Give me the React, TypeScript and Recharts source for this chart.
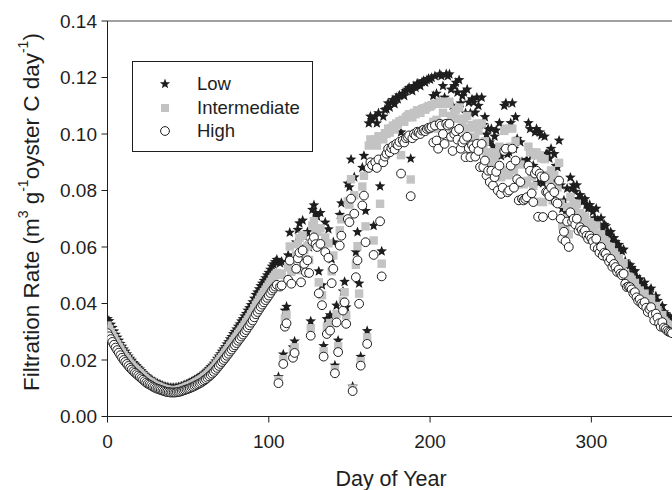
import React from 'react';
import { ScatterChart, Scatter, XAxis, YAxis, ReferenceLine, Legend, Label } from 'recharts';

const seriesNames = ['Low', 'Intermediate', 'High'];
const xTicks = [0, 100, 200, 300];
const yTicks = [0, 0.02, 0.04, 0.06, 0.08, 0.1, 0.12, 0.14];
const xTitle = 'Day of Year';

// daily values, day 0 .. 350
const lowValues = [
  0.0345, 0.0338, 0.0326, 0.0314, 0.0302, 0.0290, 0.0280, 0.0269, 0.0258, 0.0248,
  0.0238, 0.0230, 0.0221, 0.0213, 0.0205, 0.0198, 0.0190, 0.0184, 0.0179, 0.0173,
  0.0167, 0.0161, 0.0155, 0.0149, 0.0143, 0.0138, 0.0134, 0.0131, 0.0126, 0.0123,
  0.0119, 0.0117, 0.0114, 0.0112, 0.0109, 0.0107, 0.0105, 0.0104, 0.0102, 0.0101,
  0.0101, 0.0101, 0.0101, 0.0102, 0.0104, 0.0105, 0.0107, 0.0109, 0.0112, 0.0114,
  0.0117, 0.0119, 0.0123, 0.0125, 0.0129, 0.0132, 0.0136, 0.0139, 0.0143, 0.0148,
  0.0152, 0.0157, 0.0163, 0.0169, 0.0175, 0.0181, 0.0188, 0.0196, 0.0205, 0.0213,
  0.0221, 0.0230, 0.0238, 0.0246, 0.0256, 0.0264, 0.0274, 0.0282, 0.0292, 0.0300,
  0.0309, 0.0319, 0.0327, 0.0337, 0.0345, 0.0355, 0.0364, 0.0375, 0.0384, 0.0395,
  0.0405, 0.0418, 0.0431, 0.0440, 0.0451, 0.0462, 0.0471, 0.0481, 0.0490, 0.0500,
  0.0509, 0.0520, 0.0531, 0.0539, 0.0547, 0.0555, 0.0140, 0.0543, 0.0548, 0.0220,
  0.0375, 0.0389, 0.0571, 0.0651, 0.0555, 0.0245, 0.0266, 0.0617, 0.0661, 0.0684,
  0.0561, 0.0694, 0.0637, 0.0602, 0.0653, 0.0599, 0.0337, 0.0732, 0.0748, 0.0720,
  0.0708, 0.0514, 0.0721, 0.0465, 0.0250, 0.0687, 0.0345, 0.0663, 0.0359, 0.0557,
  0.0617, 0.0181, 0.0393, 0.0269, 0.0714, 0.0755, 0.0443, 0.0477, 0.0387, 0.0825,
  0.0812, 0.0910, 0.0106, 0.0847, 0.0582, 0.0653, 0.0471, 0.0212, 0.0881, 0.0923,
  0.0728, 0.0303, 0.1038, 0.1062, 0.1050, 0.0675, 0.1062, 0.1038, 0.1074, 0.0815,
  0.0585, 0.1062, 0.1086, 0.1088, 0.1109, 0.1094, 0.1112, 0.1121, 0.1106, 0.1129,
  0.1123, 0.1137, 0.1006, 0.1143, 0.1135, 0.1152, 0.1158, 0.1164, 0.0913, 0.1152,
  0.1170, 0.1164, 0.1179, 0.1177, 0.1170, 0.1184, 0.1188, 0.1182, 0.1191, 0.1196,
  0.1193, 0.1199, 0.1135, 0.1205, 0.1143, 0.1109, 0.1212, 0.1205, 0.1170, 0.1129,
  0.1212, 0.1205, 0.1212, 0.1158, 0.1100, 0.1170, 0.1182, 0.1147, 0.1191, 0.1109,
  0.1135, 0.1147, 0.1074, 0.1158, 0.1112, 0.1074, 0.1123, 0.1112, 0.1076, 0.1129,
  0.1100, 0.1033, 0.1129, 0.1033, 0.1060, 0.0998, 0.1018, 0.0971, 0.1018, 0.0957,
  0.0991, 0.1013, 0.0936, 0.1039, 0.0922, 0.0948, 0.1100, 0.1109, 0.0929, 0.0936,
  0.1039, 0.1109, 0.0948, 0.1060, 0.0983, 0.0895, 0.0971, 0.0901, 0.0895, 0.0901,
  0.0908, 0.1039, 0.1018, 0.0924, 0.0888, 0.1006, 0.1018, 0.0827, 0.1006, 0.0995,
  0.0826, 0.0991, 0.0930, 0.0929, 0.0913, 0.0948, 0.0833, 0.0929, 0.0888, 0.0882,
  0.0977, 0.0819, 0.0736, 0.0765, 0.0725, 0.0807, 0.0702, 0.0846, 0.0807, 0.0819,
  0.0796, 0.0819, 0.0770, 0.0784, 0.0772, 0.0761, 0.0770, 0.0749, 0.0736, 0.0749,
  0.0737, 0.0725, 0.0702, 0.0736, 0.0695, 0.0679, 0.0702, 0.0667, 0.0679, 0.0674,
  0.0655, 0.0641, 0.0653, 0.0620, 0.0632, 0.0619, 0.0599, 0.0608, 0.0592, 0.0585,
  0.0591, 0.0550, 0.0536, 0.0538, 0.0536, 0.0527, 0.0510, 0.0515, 0.0494, 0.0480,
  0.0486, 0.0468, 0.0462, 0.0474, 0.0450, 0.0433, 0.0445, 0.0453, 0.0421, 0.0398,
  0.0426, 0.0410, 0.0386, 0.0372, 0.0391, 0.0369, 0.0363, 0.0356, 0.0351, 0.0349,
  0.0345,
];

const intermediateValues = [
  0.0322, 0.0310, 0.0299, 0.0288, 0.0277, 0.0266, 0.0256, 0.0246, 0.0237, 0.0227,
  0.0218, 0.0210, 0.0203, 0.0195, 0.0187, 0.0181, 0.0174, 0.0169, 0.0164, 0.0158,
  0.0153, 0.0147, 0.0142, 0.0136, 0.0131, 0.0126, 0.0123, 0.0120, 0.0116, 0.0112,
  0.0109, 0.0107, 0.0105, 0.0102, 0.0100, 0.0098, 0.0096, 0.0095, 0.0094, 0.0093,
  0.0093, 0.0093, 0.0093, 0.0094, 0.0095, 0.0096, 0.0098, 0.0100, 0.0102, 0.0105,
  0.0107, 0.0109, 0.0112, 0.0114, 0.0118, 0.0121, 0.0124, 0.0128, 0.0131, 0.0135,
  0.0140, 0.0144, 0.0149, 0.0155, 0.0160, 0.0166, 0.0172, 0.0180, 0.0187, 0.0195,
  0.0203, 0.0210, 0.0218, 0.0226, 0.0234, 0.0242, 0.0251, 0.0258, 0.0267, 0.0275,
  0.0283, 0.0292, 0.0300, 0.0308, 0.0316, 0.0325, 0.0334, 0.0343, 0.0352, 0.0362,
  0.0371, 0.0383, 0.0395, 0.0403, 0.0413, 0.0423, 0.0432, 0.0440, 0.0449, 0.0458,
  0.0467, 0.0476, 0.0486, 0.0494, 0.0501, 0.0508, 0.0129, 0.0501, 0.0506, 0.0203,
  0.0347, 0.0360, 0.0528, 0.0602, 0.0512, 0.0227, 0.0245, 0.0570, 0.0610, 0.0632,
  0.0518, 0.0641, 0.0589, 0.0556, 0.0603, 0.0554, 0.0312, 0.0676, 0.0691, 0.0665,
  0.0654, 0.0475, 0.0666, 0.0429, 0.0231, 0.0634, 0.0318, 0.0613, 0.0331, 0.0514,
  0.0570, 0.0167, 0.0363, 0.0249, 0.0659, 0.0698, 0.0409, 0.0440, 0.0358, 0.0762,
  0.0750, 0.0840, 0.0098, 0.0783, 0.0537, 0.0603, 0.0435, 0.0196, 0.0814, 0.0852,
  0.0673, 0.0280, 0.0959, 0.0981, 0.0970, 0.0623, 0.0981, 0.0959, 0.0992, 0.0753,
  0.0541, 0.0981, 0.1003, 0.1000, 0.1019, 0.1005, 0.1021, 0.1030, 0.1016, 0.1037,
  0.1032, 0.1045, 0.0925, 0.1050, 0.1043, 0.1059, 0.1064, 0.1070, 0.0839, 0.1059,
  0.1075, 0.1070, 0.1084, 0.1081, 0.1075, 0.1088, 0.1091, 0.1086, 0.1094, 0.1099,
  0.1097, 0.1102, 0.1043, 0.1107, 0.1050, 0.1019, 0.1114, 0.1107, 0.1075, 0.1037,
  0.1114, 0.1107, 0.1114, 0.1064, 0.1011, 0.1075, 0.1086, 0.1054, 0.1094, 0.1019,
  0.1043, 0.1054, 0.0987, 0.1064, 0.1021, 0.0987, 0.1032, 0.1021, 0.0989, 0.1037,
  0.1011, 0.0949, 0.1037, 0.0949, 0.0974, 0.0917, 0.0935, 0.0892, 0.0935, 0.0879,
  0.0911, 0.0931, 0.0860, 0.0955, 0.0847, 0.0871, 0.1011, 0.1019, 0.0854, 0.0860,
  0.0955, 0.1019, 0.0871, 0.0974, 0.0903, 0.0822, 0.0892, 0.0828, 0.0822, 0.0828,
  0.0834, 0.0955, 0.0935, 0.0849, 0.0816, 0.0925, 0.0935, 0.0760, 0.0925, 0.0914,
  0.0759, 0.0911, 0.0855, 0.0854, 0.0839, 0.0871, 0.0765, 0.0854, 0.0816, 0.0811,
  0.0898, 0.0753, 0.0676, 0.0703, 0.0667, 0.0742, 0.0645, 0.0777, 0.0742, 0.0753,
  0.0731, 0.0753, 0.0707, 0.0720, 0.0710, 0.0699, 0.0707, 0.0688, 0.0676, 0.0688,
  0.0677, 0.0667, 0.0645, 0.0676, 0.0639, 0.0624, 0.0645, 0.0613, 0.0624, 0.0619,
  0.0602, 0.0589, 0.0600, 0.0570, 0.0581, 0.0569, 0.0550, 0.0559, 0.0544, 0.0538,
  0.0543, 0.0505, 0.0492, 0.0495, 0.0492, 0.0484, 0.0469, 0.0473, 0.0454, 0.0441,
  0.0446, 0.0430, 0.0425, 0.0435, 0.0414, 0.0398, 0.0409, 0.0416, 0.0387, 0.0366,
  0.0391, 0.0376, 0.0355, 0.0342, 0.0359, 0.0339, 0.0333, 0.0327, 0.0323, 0.0320,
  0.0317,
];

const highValues = [
  0.0295, 0.0284, 0.0274, 0.0264, 0.0254, 0.0244, 0.0235, 0.0226, 0.0217, 0.0208,
  0.0200, 0.0193, 0.0186, 0.0179, 0.0172, 0.0166, 0.0160, 0.0155, 0.0150, 0.0145,
  0.0140, 0.0135, 0.0130, 0.0125, 0.0120, 0.0116, 0.0113, 0.0110, 0.0106, 0.0103,
  0.0100, 0.0098, 0.0096, 0.0094, 0.0092, 0.0090, 0.0088, 0.0087, 0.0086, 0.0085,
  0.0085, 0.0085, 0.0085, 0.0086, 0.0087, 0.0088, 0.0090, 0.0092, 0.0094, 0.0096,
  0.0098, 0.0100, 0.0103, 0.0105, 0.0108, 0.0111, 0.0114, 0.0117, 0.0120, 0.0124,
  0.0128, 0.0132, 0.0137, 0.0142, 0.0147, 0.0152, 0.0158, 0.0165, 0.0172, 0.0179,
  0.0186, 0.0193, 0.0200, 0.0207, 0.0215, 0.0222, 0.0230, 0.0237, 0.0245, 0.0252,
  0.0260, 0.0268, 0.0275, 0.0283, 0.0290, 0.0298, 0.0306, 0.0315, 0.0323, 0.0332,
  0.0340, 0.0351, 0.0362, 0.0370, 0.0379, 0.0388, 0.0396, 0.0404, 0.0412, 0.0420,
  0.0428, 0.0437, 0.0446, 0.0453, 0.0460, 0.0466, 0.0118, 0.0460, 0.0464, 0.0186,
  0.0318, 0.0330, 0.0484, 0.0552, 0.0470, 0.0208, 0.0225, 0.0523, 0.0560, 0.0580,
  0.0475, 0.0588, 0.0540, 0.0510, 0.0553, 0.0508, 0.0286, 0.0620, 0.0634, 0.0610,
  0.0600, 0.0436, 0.0611, 0.0394, 0.0212, 0.0582, 0.0292, 0.0562, 0.0304, 0.0472,
  0.0523, 0.0153, 0.0333, 0.0228, 0.0605, 0.0640, 0.0375, 0.0404, 0.0328, 0.0699,
  0.0688, 0.0771, 0.0090, 0.0718, 0.0493, 0.0553, 0.0399, 0.0180, 0.0747, 0.0782,
  0.0617, 0.0257, 0.0880, 0.0900, 0.0890, 0.0572, 0.0900, 0.0880, 0.0910, 0.0691,
  0.0496, 0.0900, 0.0920, 0.0930, 0.0948, 0.0935, 0.0950, 0.0958, 0.0945, 0.0965,
  0.0960, 0.0972, 0.0860, 0.0977, 0.0970, 0.0985, 0.0990, 0.0995, 0.0780, 0.0985,
  0.1000, 0.0995, 0.1008, 0.1006, 0.1000, 0.1012, 0.1015, 0.1010, 0.1018, 0.1022,
  0.1020, 0.1025, 0.0970, 0.1030, 0.0977, 0.0948, 0.1036, 0.1030, 0.1000, 0.0965,
  0.1036, 0.1030, 0.1036, 0.0990, 0.0940, 0.1000, 0.1010, 0.0980, 0.1018, 0.0948,
  0.0970, 0.0980, 0.0918, 0.0990, 0.0950, 0.0918, 0.0960, 0.0950, 0.0920, 0.0965,
  0.0940, 0.0883, 0.0965, 0.0883, 0.0906, 0.0853, 0.0870, 0.0830, 0.0870, 0.0818,
  0.0847, 0.0866, 0.0800, 0.0888, 0.0788, 0.0810, 0.0940, 0.0948, 0.0794, 0.0800,
  0.0888, 0.0948, 0.0810, 0.0906, 0.0840, 0.0765, 0.0830, 0.0770, 0.0765, 0.0770,
  0.0776, 0.0888, 0.0870, 0.0790, 0.0759, 0.0860, 0.0870, 0.0707, 0.0860, 0.0850,
  0.0706, 0.0847, 0.0795, 0.0794, 0.0780, 0.0810, 0.0712, 0.0794, 0.0759, 0.0754,
  0.0835, 0.0700, 0.0629, 0.0654, 0.0620, 0.0690, 0.0600, 0.0723, 0.0690, 0.0700,
  0.0680, 0.0700, 0.0658, 0.0670, 0.0660, 0.0650, 0.0658, 0.0640, 0.0629, 0.0640,
  0.0630, 0.0620, 0.0600, 0.0629, 0.0594, 0.0580, 0.0600, 0.0570, 0.0580, 0.0576,
  0.0560, 0.0548, 0.0558, 0.0530, 0.0540, 0.0529, 0.0512, 0.0520, 0.0506, 0.0500,
  0.0505, 0.0470, 0.0458, 0.0460, 0.0458, 0.0450, 0.0436, 0.0440, 0.0422, 0.0410,
  0.0415, 0.0400, 0.0395, 0.0405, 0.0385, 0.0370, 0.0380, 0.0387, 0.0360, 0.0340,
  0.0364, 0.0350, 0.0330, 0.0318, 0.0334, 0.0315, 0.0310, 0.0304, 0.0300, 0.0298,
  0.0295,
];

const FONT = '"Liberation Sans", Arial, Helvetica, sans-serif';
const INK = '#1e1e1e';
const GRAY = '#c3c3c3';

const toPoints = (vals: number[]) => vals.map((v, i) => ({ day: i, rate: v }));
const lowData = toPoints(lowValues);
const intermediateData = toPoints(intermediateValues);
const highData = toPoints(highValues);

const starPath = (cx: number, cy: number, R: number, r: number) => {
  let d = '';
  for (let k = 0; k < 10; k++) {
    const a = -Math.PI / 2 + (k * Math.PI) / 5;
    const rad = k % 2 === 0 ? R : r;
    d += (k === 0 ? 'M' : 'L') + (cx + rad * Math.cos(a)).toFixed(2) + ',' + (cy + rad * Math.sin(a)).toFixed(2);
  }
  return d + 'Z';
};

const StarShape = (props: any) => {
  const { cx, cy } = props;
  if (cx == null || cy == null) return null;
  return <path d={starPath(cx, cy, 5.6, 2.4)} fill={INK} />;
};
const SquareShape = (props: any) => {
  const { cx, cy } = props;
  if (cx == null || cy == null) return null;
  return <rect x={cx - 4.2} y={cy - 4.2} width={8.4} height={8.4} fill={GRAY} />;
};
const CircleShape = (props: any) => {
  const { cx, cy } = props;
  if (cx == null || cy == null) return null;
  return <circle cx={cx} cy={cy} r={4.4} fill="#fff" stroke={INK} strokeWidth={1} />;
};

const legendMarker = (name: string) => {
  if (name === 'Low') return <path d={starPath(33, 12, 5.4, 2.3)} fill={INK} />;
  if (name === 'Intermediate') return <rect x={29} y={8} width={8} height={8} fill={GRAY} />;
  return <circle cx={33} cy={12} r={4.4} fill="#fff" stroke={INK} strokeWidth={1} />;
};

const rowTops = [10, 34, 57];

const renderLegend = () => (
  <div
    style={{
      width: 181,
      height: 91,
      border: `1px solid ${INK}`,
      boxSizing: 'border-box',
      background: '#fff',
      position: 'relative',
      fontFamily: FONT,
      fontSize: 18.5,
      color: INK,
    }}
  >
    {seriesNames.map((name, i) => (
      <div
        key={name}
        style={{ position: 'absolute', left: -1, top: rowTops[i], height: 24, display: 'flex', alignItems: 'center' }}
      >
        <svg width={65} height={24} style={{ display: 'block' }}>
          {legendMarker(name)}
        </svg>
        <span style={{ lineHeight: '24px', whiteSpace: 'nowrap' }}>{name}</span>
      </div>
    ))}
  </div>
);

const YTitle = () => (
  <text
    transform="translate(31,212) rotate(-90)"
    textAnchor="middle"
    dominantBaseline="central"
    fontSize={22.5}
    fontFamily={FONT}
    fill={INK}
  >
    Filtration Rate (m
    <tspan dy={-8} fontSize={14}>3</tspan>
    <tspan dy={8}> g</tspan>
    <tspan dy={-8} fontSize={14}>-1</tspan>
    <tspan dy={8}>oyster C day</tspan>
    <tspan dy={-8} fontSize={14}>-1</tspan>
    <tspan dy={8}>)</tspan>
  </text>
);

const XTitle = () => (
  <text x={391} y={486} textAnchor="middle" fontSize={21.5} fontFamily={FONT} fill={INK}>
    {xTitle}
  </text>
);

export default function App() {
  return (
    <div
      style={{
        position: 'fixed',
        left: 0,
        top: 0,
        width: 672,
        height: 490,
        overflow: 'hidden',
        background: '#fff',
      }}
    >
      <ScatterChart width={672} height={490} margin={{ top: 21, right: 0, bottom: 13.5, left: 27.5 }}>
        <XAxis
          type="number"
          dataKey="day"
          domain={[0, 350]}
          ticks={xTicks}
          allowDataOverflow
          height={60}
          tickSize={6}
          tickMargin={12}
          stroke={INK}
          tick={{ fontSize: 19, fill: INK, fontFamily: FONT }}
          tickLine={{ stroke: INK }}
        >
          <Label content={() => <XTitle />} />
        </XAxis>
        <YAxis
          type="number"
          dataKey="rate"
          domain={[0, 0.14]}
          ticks={yTicks}
          allowDataOverflow
          width={80}
          tickSize={6}
          tickMargin={4.5}
          stroke={INK}
          tickFormatter={(v: number) => v.toFixed(2)}
          tick={{ fontSize: 19, fill: INK, fontFamily: FONT }}
          tickLine={{ stroke: INK }}
        >
          <Label content={() => <YTitle />} />
        </YAxis>
        <ReferenceLine y={0.14} stroke="#444" strokeWidth={1.2} />
        <Legend
          layout="vertical"
          align="center"
          verticalAlign="middle"
          content={renderLegend}
          wrapperStyle={{ left: 132, top: 61, width: 'auto', height: 'auto' }}
        />
        <Scatter name="Low" data={lowData} shape={StarShape} isAnimationActive={false} />
        <Scatter name="Intermediate" data={intermediateData} shape={SquareShape} isAnimationActive={false} />
        <Scatter name="High" data={highData} shape={CircleShape} isAnimationActive={false} />
      </ScatterChart>
    </div>
  );
}
